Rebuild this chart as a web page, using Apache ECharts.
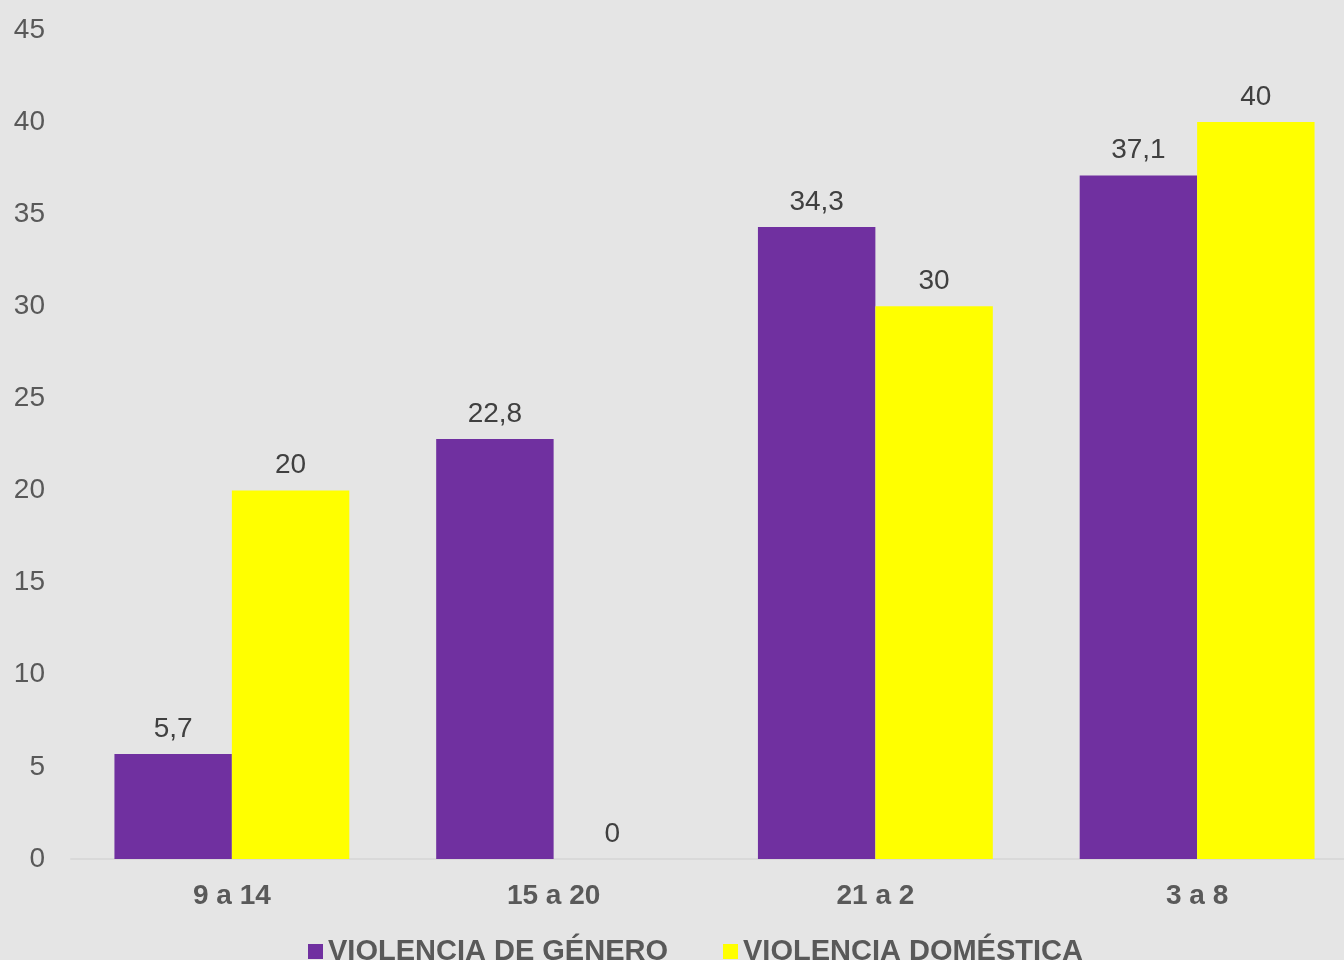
<!DOCTYPE html>
<html>
<head>
<meta charset="utf-8">
<script src="https://cdn.jsdelivr.net/npm/echarts@6/dist/echarts.min.js"></script>
<style>
html,body{margin:0;padding:0;background:#e5e5e5;overflow:hidden;}
#c{width:1358px;height:960px;}
</style>
</head>
<body>
<div id="c"></div>
<script>
const categories = ['9 a 14', '15 a 20', '21 a 2', '3 a 8'];
const generoValues = [5.7, 22.8, 34.3, 37.1];
const domesticaValues = [20, 0, 30, 40];
const seriesNames = ['VIOLENCIA DE GÉNERO', 'VIOLENCIA DOMÉSTICA'];

const chart = echarts.init(document.getElementById('c'));
const fmt = p => String(p.value).replace('.', ',');
const FONT = 'Liberation Sans, Arial, sans-serif';
const labelStyle = {
  show: true, position: 'top', distance: 11,
  color: '#404040', fontSize: 28, fontFamily: FONT,
  formatter: fmt
};
chart.setOption({
  backgroundColor: '#e5e5e5',
  animation: false,
  grid: { left: 71, top: 30, bottom: 101, right: 0 },
  legend: {
    bottom: -11, left: 303,
    itemWidth: 15, itemHeight: 15, itemGap: 55,
    icon: 'rect',
    textStyle: { color: '#595959', fontSize: 29, fontWeight: 'bold', fontFamily: FONT },
    data: seriesNames
  },
  xAxis: {
    type: 'category', data: categories,
    axisLine: { lineStyle: { color: '#d9d9d9', width: 2 } },
    axisTick: { show: false },
    axisLabel: { color: '#595959', fontSize: 28, fontWeight: 'bold', margin: 23, fontFamily: FONT }
  },
  yAxis: {
    type: 'value', min: 0, max: 45, interval: 5,
    splitLine: { show: false },
    axisLine: { show: false }, axisTick: { show: false },
    axisLabel: { color: '#595959', fontSize: 28, margin: 26, fontFamily: FONT }
  },
  series: [
    { name: seriesNames[0], type: 'bar', data: generoValues, barGap: '0%', barCategoryGap: '27%',
      itemStyle: { color: '#7030a0' }, label: labelStyle },
    { name: seriesNames[1], type: 'bar', data: domesticaValues, barGap: '0%', barCategoryGap: '27%',
      itemStyle: { color: '#ffff00' }, label: labelStyle }
  ]
});
</script>
</body>
</html>
